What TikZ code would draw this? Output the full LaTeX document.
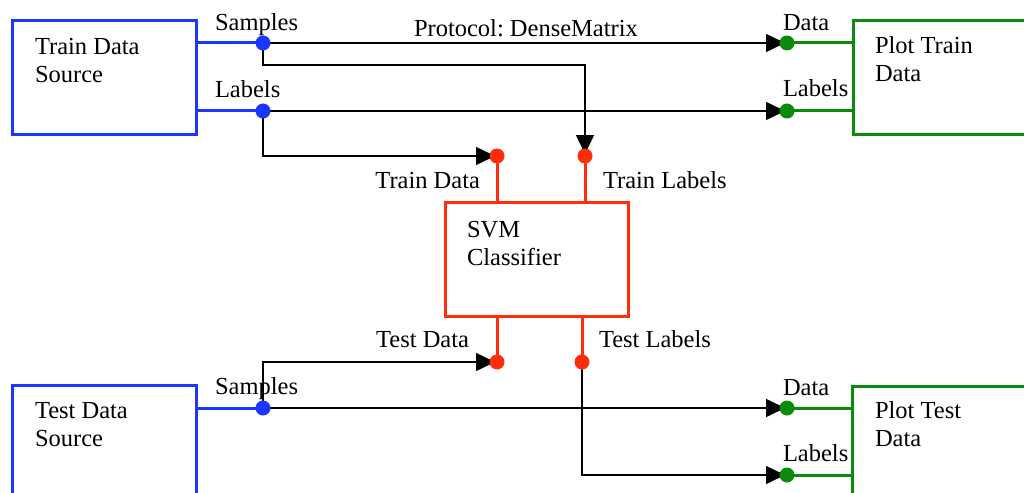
\documentclass[tikz,border=0pt]{standalone}
\usepackage{fontspec}
\setmainfont{Liberation Serif}
\usetikzlibrary{arrows.meta,backgrounds}
\definecolor{pblue}{RGB}{25,55,255}
\definecolor{pgreen}{RGB}{10,140,10}
\definecolor{pred}{RGB}{255,45,10}
\frenchspacing
\begin{document}
\begin{tikzpicture}[x=1pt,y=-1pt,
 font=\fontsize{24.5}{28}\selectfont,
 box/.style={draw,line width=3pt,minimum width=184pt,minimum height=113pt,inner sep=0pt,outer sep=0pt},
 dot/.style={circle,fill,inner sep=0pt,outer sep=0pt,minimum size=15pt},
 lbl/.style={inner sep=0pt,outer sep=0pt},
 boxtext/.style={lbl,anchor=base west,align=left},
 wire/.style={line width=1.5pt,black},
 arr/.style={wire,-{Triangle[length=19pt,width=18pt]},shorten >=2pt},
 port/.style={line width=3pt}]
\clip (0,0) rectangle (1024,492);
% boxes
\node[box,draw=pblue] (tds) at (104,77.5) {};
\node[boxtext] (tdsT) at (35,83) {Train Data\\Source};
\node[box,draw=pgreen] (ptd) at (945,77.5) {};
\node[boxtext] (ptdT) at (875,82) {Plot Train\\Data};
\node[box,draw=pred,minimum width=183pt,minimum height=114pt] (svm) at (536.5,259) {};
\node[boxtext] (svmT) at (467,265) {SVM\\Classifier};
\node[box,draw=pblue] (teds) at (104,441.5) {};
\node[boxtext] (tedsT) at (35,446) {Test Data\\Source};
\node[box,draw=pgreen] (pted) at (944,442.5) {};
\node[boxtext] (ptedT) at (875,446) {Plot Test\\Data};
% dots
\node[dot,pblue] (s1) at (263,43) {};
\node[dot,pblue] (l1) at (263,111) {};
\node[dot,pgreen] (pd1) at (787,43) {};
\node[dot,pgreen] (pl1) at (787,111) {};
\node[dot,pred] (trd) at (497,156) {};
\node[dot,pred] (trl) at (585,156) {};
\node[dot,pred] (ted) at (497,362) {};
\node[dot,pred] (tel) at (582,362) {};
\node[dot,pblue] (s2) at (263,408) {};
\node[dot,pgreen] (pd2) at (787,408) {};
\node[dot,pgreen] (pl2) at (787,475) {};
% labels
\node[lbl,anchor=base west] (ls1) at (215,31) {Samples};
\node[lbl,anchor=base west] (ll1) at (215,98) {Labels};
\node[lbl,anchor=base west] (lproto) at (414,37) {Protocol: DenseMatrix};
\node[lbl,anchor=base west] (lpd1) at (783,31) {Data};
\node[lbl,anchor=base west] (lpl1) at (783,97) {Labels};
\node[lbl,anchor=base east] (ltrd) at (480,188) {Train Data};
\node[lbl,anchor=base west] (ltrl) at (603,188) {Train Labels};
\node[lbl,anchor=base east] (lted) at (469,347) {Test Data};
\node[lbl,anchor=base west] (ltel) at (599,347) {Test Labels};
\node[lbl,anchor=base west] (ls2) at (215,394) {Samples};
\node[lbl,anchor=base west] (lpd2) at (783,395) {Data};
\node[lbl,anchor=base west] (lpl2) at (783,461) {Labels};
\coordinate (c1) at (263,65);
\begin{scope}[on background layer]
\draw[port,pblue] (tds.east |- s1) -- (s1.center);
\draw[port,pblue] (tds.east |- l1) -- (l1.center);
\draw[port,pgreen] (pd1.center) -- (ptd.west |- pd1);
\draw[port,pgreen] (pl1.center) -- (ptd.west |- pl1);
\draw[port,pred] (trd.center) -- (svm.north -| trd);
\draw[port,pred] (trl.center) -- (svm.north -| trl);
\draw[port,pred] (ted.center) -- (svm.south -| ted);
\draw[port,pred] (tel.center) -- (svm.south -| tel);
\draw[port,pblue] (teds.east |- s2) -- (s2.center);
\draw[port,pgreen] (pd2.center) -- (pted.west |- pd2);
\draw[port,pgreen] (pl2.center) -- (pted.west |- pl2);
\draw[arr] (s1.center) -- (pd1.center);
\draw[arr] (s1.center) -- (c1) -| (trl.center);
\draw[arr] (l1.center) -- (pl1.center);
\draw[arr] (l1.center) |- (trd.center);
\draw[arr] (s2.center) |- (ted.center);
\draw[arr] (s2.center) -- (pd2.center);
\draw[arr] (tel.center) |- (pl2.center);
\end{scope}
\end{tikzpicture}
\end{document}
